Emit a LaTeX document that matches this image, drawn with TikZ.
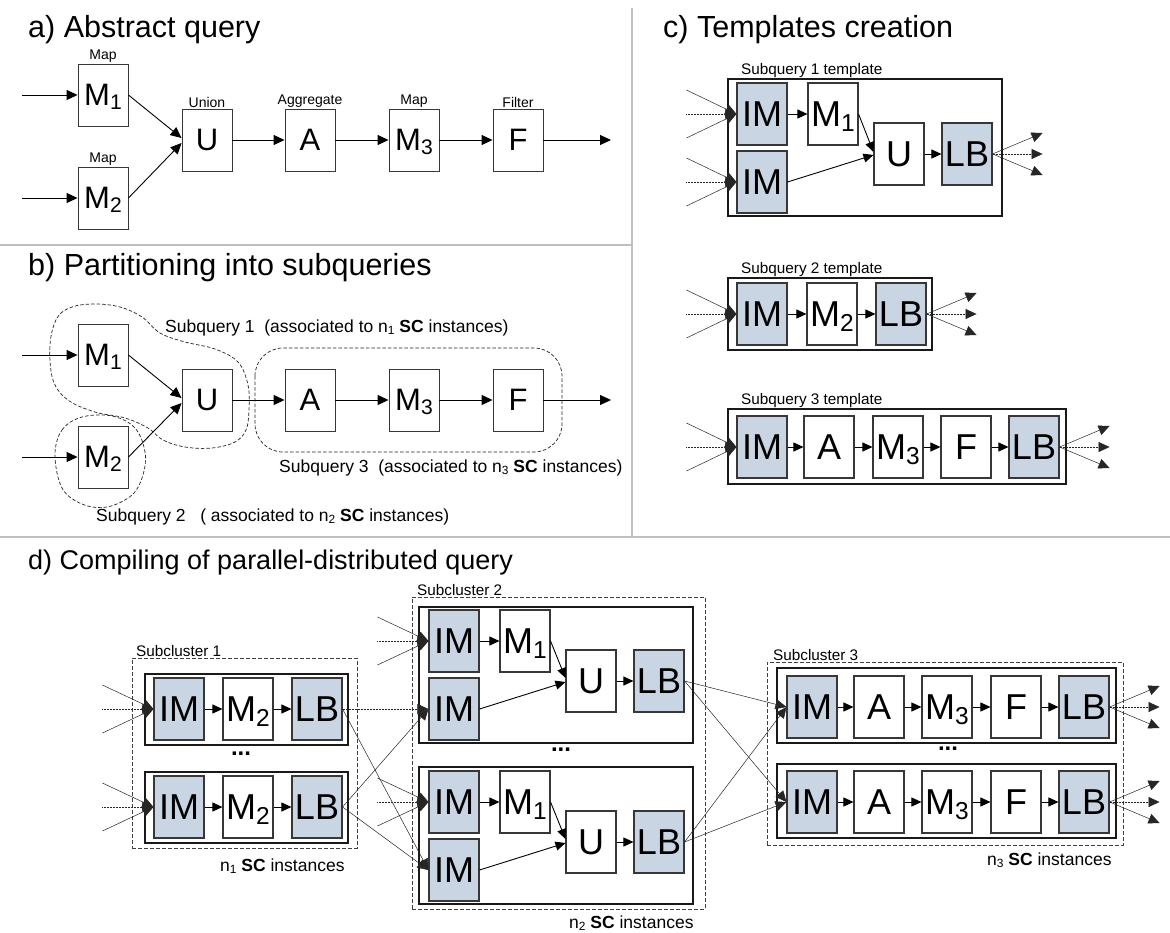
\documentclass[tikz,border=0pt]{standalone}
\usepackage{fontspec}
\setmainfont{Liberation Sans}
\usetikzlibrary{arrows.meta,calc}
\definecolor{imfill}{RGB}{201,213,227}
\definecolor{sepgray}{RGB}{192,192,192}
\definecolor{boxline}{RGB}{55,55,55}
\newcommand{\fs}[1]{\fontsize{#1}{#1}\selectfont}
\newcommand{\lsub}[1]{\smash{\raisebox{-0.13em}{\scalebox{0.68}{#1}}}}
\newcommand{\fanin}[2]{%
  \coordinate (#1-ia) at ([shift={(-#2,-24)}]#1.west);
  \coordinate (#1-ib) at ([shift={(-#2,0)}]#1.west);
  \coordinate (#1-ic) at ([shift={(-#2,24)}]#1.west);
  \draw[fan] (#1-ia) -- (#1.west);
  \draw[fandot] (#1-ib) -- (#1.west);
  \draw[fan] (#1-ic) -- (#1.west);
}
\newcommand{\fanout}[1]{%
  \coordinate (#1-oa) at ([shift={(50,-21)}]#1.east);
  \coordinate (#1-ob) at ([shift={(50,0)}]#1.east);
  \coordinate (#1-oc) at ([shift={(50,21)}]#1.east);
  \draw[fan] (#1.east) -- (#1-oa);
  \draw[fandot] (#1.east) -- (#1-ob);
  \draw[fan] (#1.east) -- (#1-oc);
}
\tikzset{
 opa/.style={draw=boxline, line width=0.9pt, fill=white, minimum width=50pt, minimum height=62pt, inner sep=0pt, font=\fs{31}},
 opc/.style={opa, line width=1.1pt, font=\fs{36}},
 imc/.style={opc, fill=imfill},
 tmpl/.style={draw=black!90, line width=1.1pt, inner sep=0pt},
 clus/.style={draw=black!75, line width=0.8pt, dash pattern=on 4pt off 2pt, inner sep=0pt},
 blob/.style={draw=black!85, line width=0.7pt, dash pattern=on 3.5pt off 2pt},
 arr/.style={-{Triangle[length=11pt,width=10pt]}, line width=0.9pt},
 arrs/.style={-{Triangle[length=10pt,width=9pt]}, line width=0.9pt},
 fan/.style={-{Triangle[length=11pt,width=10pt]}, line width=0.5pt, draw=black!85},
 fandot/.style={fan, densely dotted},
 oplab/.style={font=\fs{14}, inner sep=1pt, anchor=south},
 ttl/.style={font=\fs{30.5}, anchor=base west, inner sep=0pt},
 note/.style={font=\fs{17.5}, anchor=west, inner sep=0pt},
 smalllab/.style={font=\fs{15.3}, anchor=south west, inner sep=1pt},
 sepline/.style={draw=sepgray, line width=1.2pt},
 dotsty/.style={font=\fs{24}\bfseries, inner sep=0pt},
}
\begin{document}
\begin{tikzpicture}[x=1pt,y=-1pt]
\useasboundingbox (0,0) rectangle (1170,932);
\fill[white] (0,0) rectangle (1170,932);

% separators
\draw[sepline] (0,245) -- (632,245);
\draw[sepline] (632,8) -- (632,537);
\draw[sepline] (0,537) -- (1170,537);

% ---------------- a) ----------------
\node[ttl] (ta) at (28,37) {a) Abstract query};
\node[opa] (aM1) at (103,95) {M\lsub{1}};
\node[opa] (aM2) at (103,198) {M\lsub{2}};
\node[opa] (aU) at (207,140) {U};
\node[opa] (aA) at (310,140) {A};
\node[opa] (aM3) at (414,140) {M\lsub{3}};
\node[opa] (aF) at (518,140) {F};
\node[oplab] (laM1) at (aM1.north) {Map};
\node[oplab] (laM2) at (aM2.north) {Map};
\node[oplab] (laU) at (aU.north) {Union};
\node[oplab] (laA) at (aA.north) {Aggregate};
\node[oplab] (laM3) at (aM3.north) {Map};
\node[oplab] (laF) at (aF.north) {Filter};
\coordinate (aIn1) at (22,95);
\coordinate (aIn2) at (22,198);
\coordinate (aOut) at (611,140);
\draw[arr] (aIn1) -- (aM1.west);
\draw[arr] (aIn2) -- (aM2.west);
\draw[arr] (aM1.east) -- ([yshift=2pt]aU.west);
\draw[arr] (aM2.east) -- ([yshift=-3pt]aU.west);
\draw[arr] (aU) -- (aA);
\draw[arr] (aA) -- (aM3);
\draw[arr] (aM3) -- (aF);
\draw[arr] (aF) -- (aOut);

% ---------------- b) ----------------
\node[ttl] (tb) at (28,275) {b) Partitioning into subqueries};
\node[opa] (bM1) at (103,355) {M\lsub{1}};
\node[opa] (bM2) at (103,457) {M\lsub{2}};
\node[opa] (bU) at (207,400) {U};
\node[opa] (bA) at (310,400) {A};
\node[opa] (bM3) at (414,400) {M\lsub{3}};
\node[opa] (bF) at (518,400) {F};
\coordinate (bIn1) at (22,355);
\coordinate (bIn2) at (22,457);
\coordinate (bOut) at (611,400);
\draw[arr] (bIn1) -- (bM1.west);
\draw[arr] (bIn2) -- (bM2.west);
\draw[arr] (bM1.east) -- ([yshift=2pt]bU.west);
\draw[arr] (bM2.east) -- ([yshift=-3pt]bU.west);
\draw[arr] (bU) -- (bA);
\draw[arr] (bA) -- (bM3);
\draw[arr] (bM3) -- (bF);
\draw[arr] (bF) -- (bOut);
\draw[blob] plot[smooth cycle, tension=0.6] coordinates {(50,345) (57,318) (72,307) (95,304) (120,307) (142,317) (160,333) (185,342) (215,349) (238,362) (248,385) (249,410) (246,430) (235,442) (212,448) (185,447) (163,440) (148,428) (125,418) (95,412) (68,400) (53,380)};
\draw[blob] plot[smooth cycle, tension=0.6] coordinates {(55,455) (62,430) (82,417) (112,416) (135,428) (145,452) (143,475) (132,495) (107,507) (82,504) (62,488)};
\draw[blob, rounded corners=28pt] (255,348) rectangle (562,452);
\node[note] (bl1) at (165,328) {Subquery 1\ \ (associated to n\lsub{1} \textbf{SC} instances)};
\node[note] (bl3) at (279,468) {Subquery 3\ \ (associated to n\lsub{3} \textbf{SC} instances)};
\node[note] (bl2) at (96,517) {Subquery 2\ \ \ ( associated to n\lsub{2} \textbf{SC} instances)};

% ---------------- c) ----------------
\node[ttl] (tc) at (663,37) {c) Templates creation};
% template 1
\node[tmpl, minimum width=274pt, minimum height=137pt] (cT1) at (865,147.5) {};
\node[smalllab] (cT1l) at (740,79) {Subquery 1 template};
\node[imc] (cIM1) at (762,114) {IM};
\node[imc] (cIM2) at (762,182) {IM};
\node[opc] (cM1) at (833,114) {M\lsub{1}};
\node[opc] (cU) at (899,154) {U};
\node[imc] (cLB) at (967,154) {LB};
\draw[arrs] (cIM1) -- (cM1);
\draw[arrs] (cM1.east) -- ([yshift=2pt]cU.west);
\draw[arrs] (cIM2.east) -- ([yshift=-1pt]cU.west);
\draw[arrs] (cU) -- (cLB);
\fanin{cIM1}{50}
\fanin{cIM2}{50}
\fanout{cLB}
% template 2
\node[tmpl, minimum width=204pt, minimum height=72pt] (cT2) at (830,314) {};
\node[smalllab] (cT2l) at (740,278) {Subquery 2 template};
\node[imc] (cIM3) at (762,314) {IM};
\node[opc] (cM2) at (832,314) {M\lsub{2}};
\node[imc] (cLB2) at (901,314) {LB};
\draw[arrs] (cIM3) -- (cM2);
\draw[arrs] (cM2) -- (cLB2);
\fanin{cIM3}{50}
\fanout{cLB2}
% template 3
\node[tmpl, minimum width=338pt, minimum height=75pt] (cT3) at (897,446.5) {};
\node[smalllab] (cT3l) at (740,409) {Subquery 3 template};
\node[imc] (cIM4) at (762,447) {IM};
\node[opc] (cA) at (829,447) {A};
\node[opc] (cM3) at (898,447) {M\lsub{3}};
\node[opc] (cF) at (966,447) {F};
\node[imc] (cLB3) at (1034,447) {LB};
\draw[arrs] (cIM4) -- (cA);
\draw[arrs] (cA) -- (cM3);
\draw[arrs] (cM3) -- (cF);
\draw[arrs] (cF) -- (cLB3);
\fanin{cIM4}{50}
\fanout{cLB3}

% ---------------- d) ----------------
\node[ttl, font=\fs{27}] (td) at (28,569) {d) Compiling of parallel-distributed query};

% Subcluster 1
\node[clus, minimum width=225pt, minimum height=190pt] (sc1) at (244.5,753) {};
\node[smalllab] (sc1l) at (135,658) {Subcluster 1};
\node[tmpl, minimum width=203pt, minimum height=71pt] (s1i1) at (246.5,709.5) {};
\node[tmpl, minimum width=203pt, minimum height=71pt] (s1i2) at (246.5,807.5) {};
\node[imc] (d1IM1) at (179,709) {IM};
\node[opc] (d1M1) at (248,709) {M\lsub{2}};
\node[imc] (d1LB1) at (317,709) {LB};
\node[imc] (d1IM2) at (179,807) {IM};
\node[opc] (d1M2) at (248,807) {M\lsub{2}};
\node[imc] (d1LB2) at (317,807) {LB};
\draw[arrs] (d1IM1) -- (d1M1);
\draw[arrs] (d1M1) -- (d1LB1);
\draw[arrs] (d1IM2) -- (d1M2);
\draw[arrs] (d1M2) -- (d1LB2);
\fanin{d1IM1}{51}
\fanin{d1IM2}{51}
\node[dotsty] (d1dots) at (241,754) {...};
\node[note] (d1n) at (220,865) {n\lsub{1} \textbf{SC} instances};

% Subcluster 2
\node[clus, minimum width=293pt, minimum height=312pt] (sc2) at (558.5,753) {};
\node[smalllab] (sc2l) at (416,597) {Subcluster 2};
\node[tmpl, minimum width=274pt, minimum height=136pt] (s2i1) at (556,675) {};
\node[tmpl, minimum width=274pt, minimum height=137pt] (s2i2) at (556,835.5) {};
\node[imc] (d2IMa) at (454,641) {IM};
\node[imc] (d2IMb) at (454,709) {IM};
\node[opc] (d2M1a) at (525,641) {M\lsub{1}};
\node[opc] (d2Ua) at (591,681) {U};
\node[imc] (d2LBa) at (659,681) {LB};
\node[imc] (d2IMc) at (454,802) {IM};
\node[imc] (d2IMd) at (454,870) {IM};
\node[opc] (d2M1b) at (525,802) {M\lsub{1}};
\node[opc] (d2Ub) at (591,842) {U};
\node[imc] (d2LBb) at (659,842) {LB};
\draw[arrs] (d2IMa) -- (d2M1a);
\draw[arrs] (d2M1a.east) -- ([yshift=3pt]d2Ua.west);
\draw[arrs] (d2IMb.east) -- ([yshift=-1pt]d2Ua.west);
\draw[arrs] (d2Ua) -- (d2LBa);
\draw[arrs] (d2IMc) -- (d2M1b);
\draw[arrs] (d2M1b.east) -- ([yshift=3pt]d2Ub.west);
\draw[arrs] (d2IMd.east) -- ([yshift=-1pt]d2Ub.west);
\draw[arrs] (d2Ub) -- (d2LBb);
\fanin{d2IMa}{51}
\fanin{d2IMc}{51}
\node[dotsty] (d2dots) at (561,750) {...};
\node[note] (d2n) at (569,922) {n\lsub{2} \textbf{SC} instances};

% Subcluster 3
\node[clus, minimum width=356pt, minimum height=183pt] (sc3) at (945,753.5) {};
\node[smalllab] (sc3l) at (772,662) {Subcluster 3};
\node[tmpl, minimum width=339pt, minimum height=75pt] (s3i1) at (946.5,705.5) {};
\node[tmpl, minimum width=339pt, minimum height=74pt] (s3i2) at (946.5,801) {};
\node[imc] (d3IM1) at (812,707) {IM};
\node[opc] (d3A1) at (879,707) {A};
\node[opc] (d3M1) at (947,707) {M\lsub{3}};
\node[opc] (d3F1) at (1016,707) {F};
\node[imc] (d3LB1) at (1084,707) {LB};
\node[imc] (d3IM2) at (812,802) {IM};
\node[opc] (d3A2) at (879,802) {A};
\node[opc] (d3M2) at (947,802) {M\lsub{3}};
\node[opc] (d3F2) at (1016,802) {F};
\node[imc] (d3LB2) at (1084,802) {LB};
\draw[arrs] (d3IM1) -- (d3A1);
\draw[arrs] (d3A1) -- (d3M1);
\draw[arrs] (d3M1) -- (d3F1);
\draw[arrs] (d3F1) -- (d3LB1);
\draw[arrs] (d3IM2) -- (d3A2);
\draw[arrs] (d3A2) -- (d3M2);
\draw[arrs] (d3M2) -- (d3F2);
\draw[arrs] (d3F2) -- (d3LB2);
\fanout{d3LB1}
\fanout{d3LB2}
\node[dotsty] (d3dots) at (948,749) {...};
\node[note] (d3n) at (987,859) {n\lsub{3} \textbf{SC} instances};

% inter-cluster connections
\draw[fandot] (d1LB1.east) -- (d2IMb.west);
\draw[fan] (d1LB2.east) -- (d2IMb.west);
\draw[fan] (d1LB1.east) -- (d2IMd.west);
\draw[fan] (d1LB2.east) -- (d2IMd.west);
\draw[fan] (d2LBa.east) -- (d3IM1.west);
\draw[fan] (d2LBa.east) -- (d3IM2.west);
\draw[fan] (d2LBb.east) -- (d3IM1.west);
\draw[fan] (d2LBb.east) -- (d3IM2.west);
\end{tikzpicture}
\end{document}
